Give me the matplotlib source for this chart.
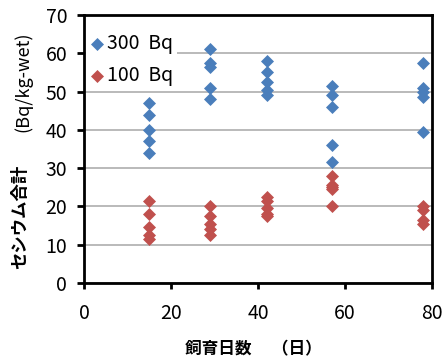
import matplotlib
matplotlib.use("Agg")
from matplotlib import pyplot as plt

plt.rcParams['font.family'] = ['Noto Sans CJK JP', 'DejaVu Sans']

# days of rearing for each group
days = [15, 29, 42, 57, 78]

# 300 Bq group, cesium total per fish
bq300 = [
    [47, 44, 40, 37, 34],
    [61, 57.5, 56.5, 51, 48],
    [58, 55, 52.5, 50.5, 49],
    [51.5, 49, 46, 36, 31.5],
    [57.5, 51, 50, 48.5, 39.5],
]

# 100 Bq group
bq100 = [
    [21.5, 18, 14.5, 12.5, 11.5],
    [20, 17.5, 15.5, 14, 12.5],
    [22.5, 21.5, 19.5, 18, 17.5],
    [28, 25.5, 25, 24.5, 20],
    [20, 19, 16.5, 15.5],
]

blue = '#4a7ebb'
red = '#c0504d'

W, H = 445, 363
fig = plt.figure(figsize=(W / 100, H / 100), dpi=100)
ax = fig.add_axes([84 / W, 1 - 283 / H, 348 / W, 268 / H])

x300, y300 = [], []
for d, vals in zip(days, bq300):
    x300 += [d] * len(vals)
    y300 += vals
x100, y100 = [], []
for d, vals in zip(days, bq100):
    x100 += [d] * len(vals)
    y100 += vals

ax.scatter(x300, y300, marker='D', s=44, color=blue, label='300  Bq', zorder=3, linewidths=0)
ax.scatter(x100, y100, marker='D', s=44, color=red, label='100  Bq', zorder=3, linewidths=0)

ax.set_xlim(0, 80)
ax.set_ylim(0, 70)
ax.set_xticks([0, 20, 40, 60, 80])
ax.set_yticks(range(0, 80, 10))
ax.yaxis.grid(True, color='#b4b4b4', linewidth=1.3)
ax.set_axisbelow(True)

for s in ax.spines.values():
    s.set_linewidth(2)
ax.tick_params(axis='both', labelsize=14, width=2, length=4, colors='black', direction='out')
ax.tick_params(axis='y', length=5, pad=7)
ax.tick_params(axis='x', pad=10.5)

# x label sits a bit left of centre in the original
fig.text(185 / W, 1 - 349 / H, '飼育日数　 （日）', fontsize=12, fontweight='bold',
         ha='left', va='center')
# y label in two parts: bold Japanese, plain unit
fig.text(20 / W, 1 - 217 / H, 'セシウム合計', rotation=90,
         ha='center', va='center', fontsize=12.5, fontweight='bold')
fig.text(23 / W, 1 - 82 / H, '(Bq/kg-wet)', rotation=90,
         ha='center', va='center', fontsize=13)

leg = ax.legend(loc='upper left', bbox_to_anchor=(0.0066, 0.946), frameon=True,
                fontsize=14, handletextpad=0.15, borderaxespad=0, borderpad=0.2,
                handlelength=0.7, labelspacing=0.55, fancybox=False)
leg.get_frame().set_edgecolor('white')
leg.get_frame().set_linewidth(0)
leg.get_frame().set_alpha(1)

fig.savefig('out.png', dpi=100)
